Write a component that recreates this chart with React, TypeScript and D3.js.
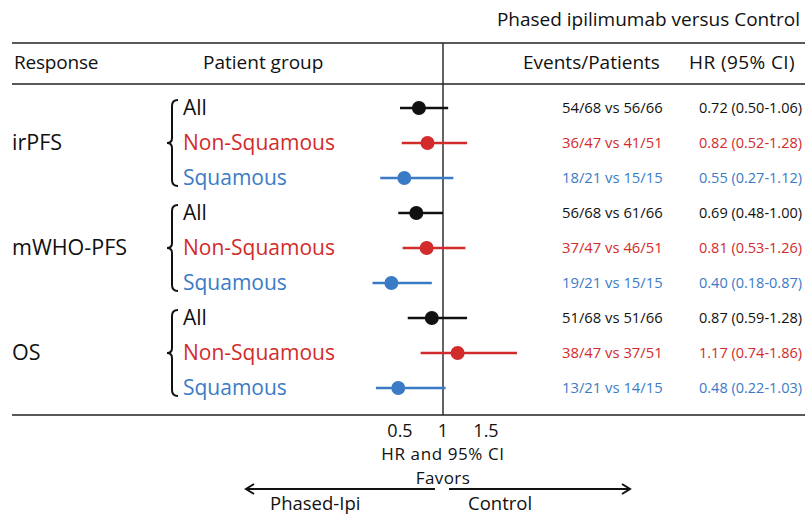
import React from 'react';
import * as d3 from 'd3';

// data
const responses = ['irPFS', 'mWHO-PFS', 'OS'];
const groups = ['All', 'Non-Squamous', 'Squamous'];
const hr = [0.72, 0.82, 0.55, 0.69, 0.81, 0.40, 0.87, 1.17, 0.48];
const ciLow = [0.50, 0.52, 0.27, 0.48, 0.53, 0.18, 0.59, 0.74, 0.22];
const ciHigh = [1.06, 1.28, 1.12, 1.00, 1.26, 0.87, 1.28, 1.86, 1.03];
const events = [
  '54/68 vs 56/66', '36/47 vs 41/51', '18/21 vs 15/15',
  '56/68 vs 61/66', '37/47 vs 46/51', '19/21 vs 15/15',
  '51/68 vs 51/66', '38/47 vs 37/51', '13/21 vs 14/15',
];
const hrLabels = [
  '0.72 (0.50-1.06)', '0.82 (0.52-1.28)', '0.55 (0.27-1.12)',
  '0.69 (0.48-1.00)', '0.81 (0.53-1.26)', '0.40 (0.18-0.87)',
  '0.87 (0.59-1.28)', '1.17 (0.74-1.86)', '0.48 (0.22-1.03)',
];
const tickValues = [0.5, 1, 1.5];

const W = 805;
const H = 514;
const FONT = '"Open Sans", Lato, sans-serif';
const groupColor: Record<string, string> = {
  All: '#111111',
  'Non-Squamous': '#d22b2b',
  Squamous: '#3b7bc6',
};

const rows = responses.flatMap((r) => groups.map((g) => ({ response: r, group: g })));

export default function App() {
  const x = d3.scaleLinear().domain([1, 1.5]).range([443, 486]);
  const y = d3
    .scalePoint<number>()
    .domain(rows.map((_, i) => i))
    .range([108, 388]);

  const bracePath = (top: number, bottom: number) => {
    const mid = (top + bottom) / 2;
    const p = d3.path();
    p.moveTo(178, top);
    p.quadraticCurveTo(172, top, 172, top + 6);
    p.lineTo(172, mid - 5);
    p.quadraticCurveTo(172, mid, 167, mid);
    p.quadraticCurveTo(172, mid, 172, mid + 5);
    p.lineTo(172, bottom - 6);
    p.quadraticCurveTo(172, bottom, 178, bottom);
    return p.toString();
  };

  const lineTop = 43;
  const lineHead = 84;
  const lineBottom = 415;
  const arrowY = 489;

  return (
    <svg
      width={W}
      height={H}
      style={{ position: 'absolute', left: 0, top: 0, background: '#fff' }}
      fontFamily={FONT}
    >
      {/* header */}
      <text x={800} y={26} fontSize={19} textAnchor="end" fill="#111">
        Phased ipilimumab versus Control
      </text>
      <line x1={12} x2={W} y1={lineTop} y2={lineTop} stroke="#222" strokeWidth={1.6} />
      <line x1={12} x2={W} y1={lineHead} y2={lineHead} stroke="#222" strokeWidth={1.6} />
      <line x1={12} x2={W} y1={lineBottom} y2={lineBottom} stroke="#222" strokeWidth={1.6} />
      <line x1={x(1)} x2={x(1)} y1={lineTop} y2={lineBottom} stroke="#222" strokeWidth={1.4} />
      <text x={14} y={69} fontSize={19} fill="#111" letterSpacing={-0.2}>Response</text>
      <text x={203} y={69} fontSize={19} fill="#111">Patient group</text>
      <text x={523} y={69} fontSize={19} fill="#111">Events/Patients</text>
      <text x={795} y={69} fontSize={19} textAnchor="end" fill="#111" letterSpacing={0.4}>HR (95% CI)</text>

      {/* response labels and braces */}
      {responses.map((r, gi) => {
        const top = y(gi * 3)! - 8;
        const bottom = y(gi * 3 + 2)! + 8;
        return (
          <g key={r}>
            <text x={12} y={y(gi * 3 + 1)! + 7} fontSize={21.5} fill="#111">{r}</text>
            <path d={bracePath(top, bottom)} fill="none" stroke="#111" strokeWidth={2} />
          </g>
        );
      })}

      {rows.map((row, i) => {
        const c = groupColor[row.group];
        const cy = y(i)!;
        return (
          <g key={i}>
            <text x={183} y={cy + 7} fontSize={21} fill={c}>{row.group}</text>
            <line x1={x(ciLow[i])} x2={x(ciHigh[i])} y1={cy} y2={cy} stroke={c} strokeWidth={2.5} />
            <circle cx={x(hr[i])} cy={cy} r={7} fill={c} />
            <text x={562} y={cy + 5} fontSize={14.8} fill={c}>{events[i]}</text>
            <text x={699} y={cy + 5} fontSize={14.5} fill={c}>{hrLabels[i]}</text>
          </g>
        );
      })}

      {/* axis */}
      {tickValues.map((t) => (
        <text key={t} x={x(t)} y={437} fontSize={18} textAnchor="middle" fill="#111">
          {t}
        </text>
      ))}
      <text x={x(1)} y={460} fontSize={17} textAnchor="middle" fill="#111" letterSpacing={0.6}>HR and 95% CI</text>
      <text x={x(1)} y={484} fontSize={17} textAnchor="middle" fill="#111" letterSpacing={0.4}>Favors</text>

      <line x1={435} x2={246} y1={arrowY} y2={arrowY} stroke="#111" strokeWidth={2} />
      <polyline points={`${254},${arrowY - 5} ${246},${arrowY} ${254},${arrowY + 5}`} fill="none" stroke="#111" strokeWidth={2} />
      <line x1={449} x2={630} y1={arrowY} y2={arrowY} stroke="#111" strokeWidth={2} />
      <polyline points={`${622},${arrowY - 5} ${630},${arrowY} ${622},${arrowY + 5}`} fill="none" stroke="#111" strokeWidth={2} />
      <text x={270} y={510} fontSize={18.5} fill="#111">Phased-Ipi</text>
      <text x={468} y={510} fontSize={18.5} fill="#111">Control</text>
    </svg>
  );
}
